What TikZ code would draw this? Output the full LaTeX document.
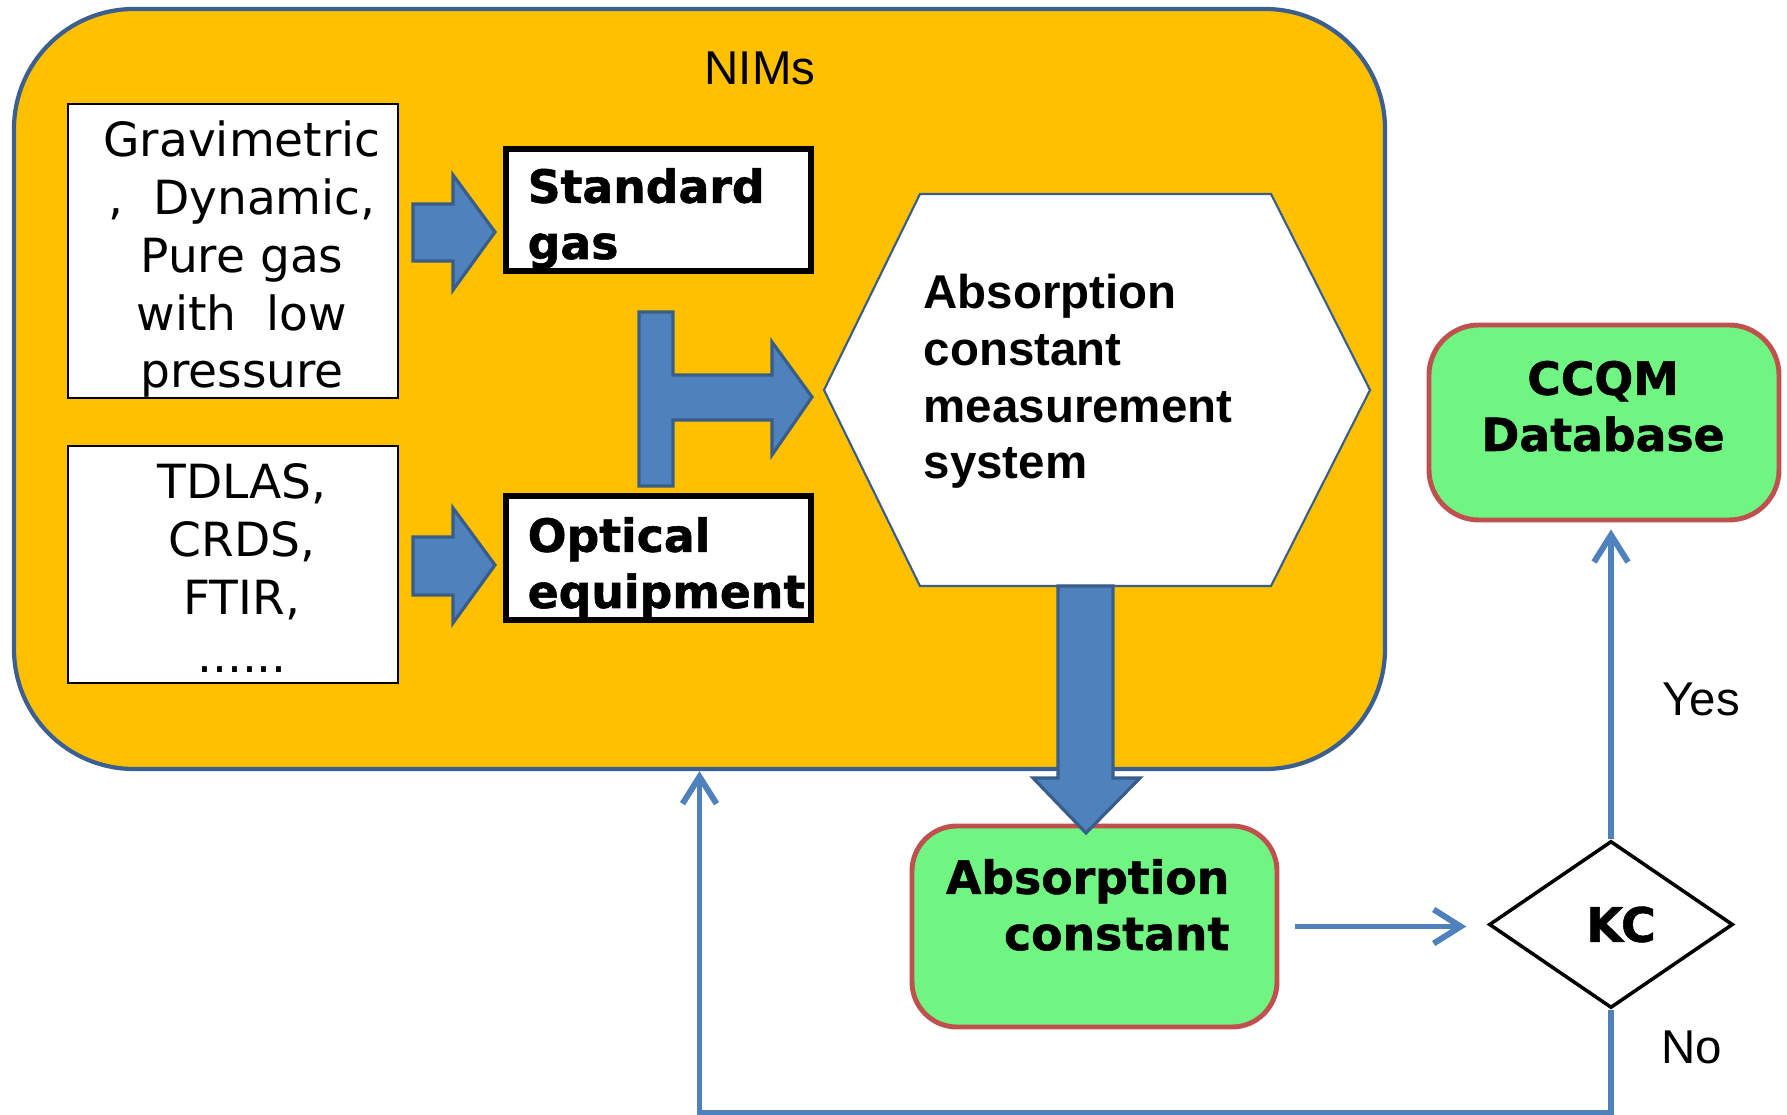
\documentclass[tikz,border=0pt]{standalone}
\usepackage{fontspec}
\setmainfont{Liberation Sans}
\newfontfamily\dejavu{DejaVu Sans}
\newfontfamily\heavy[BoldFeatures={FakeBold=1.2}]{DejaVu Sans}
\usetikzlibrary{arrows.meta,shapes.geometric}

\definecolor{nimsorange}{RGB}{255,192,0}
\definecolor{frameblue}{RGB}{59,95,145}
\definecolor{arrowblue}{RGB}{79,129,189}
\definecolor{arrowline}{RGB}{56,93,138}
\definecolor{resultgreen}{RGB}{112,245,130}
\definecolor{resultred}{RGB}{192,80,77}

\begin{document}
\begin{tikzpicture}[
  frame/.style={draw=frameblue, line width=1.2pt, fill=nimsorange, rounded corners=1.2cm, inner sep=0pt},
  plain/.style={draw=black, line width=0.6pt, fill=white, inner sep=0pt},
  inbox/.style={draw=black, line width=1.5pt, fill=white, inner sep=0pt},
  result/.style={draw=resultred, line width=1.4pt, fill=resultgreen, rounded corners=0.45cm, inner sep=0pt},
  note/.style={inner sep=0pt, font=\fontsize{13.5}{16}\selectfont},
  thintext/.style={inner sep=0pt, align=center, font={\dejavu\fontsize{13.4}{16.5}\selectfont}},
  heavytext/.style={inner sep=0pt, font={\heavy\bfseries\fontsize{13}{16}\selectfont}},
  hextext/.style={inner sep=0pt, align=left, font={\bfseries\fontsize{13.5}{16.2}\selectfont}},
  blockarrow/.style={draw=arrowline, line width=0.9pt, fill=arrowblue},
  flow/.style={draw=arrowblue, line width=1.7pt, -{Straight Barb[length=2.7mm,width=3.4mm]}}
]
  \useasboundingbox (0,0) rectangle (17.87,-11.15);

  % NIMs frame
  \node [frame, minimum width=13.71cm, minimum height=7.60cm] (nims) at (6.995,-3.89) {};
  \node [note, anchor=base] (nimslabel) at (7.60,-0.85) {NIMs};

  % sources (base = last line)
  \node [plain, minimum width=3.30cm, minimum height=2.94cm] (grav) at (2.33,-2.51) {};
  \node [thintext, anchor=base] (gravtext) at (2.42,-3.88) {Gravimetric\\,~~Dynamic,\\Pure gas\\with~~low\\pressure};
  \node [plain, minimum width=3.30cm, minimum height=2.37cm] (tdlas) at (2.33,-5.645) {};
  \node [thintext, anchor=base] (tdlastext) at (2.42,-6.72) {TDLAS,\\CRDS,\\FTIR,\\......};

  \node [inbox, minimum width=3.05cm, minimum height=1.22cm] (std) at (6.585,-2.10) {};
  \node [heavytext, align=left, anchor=base west] (stdtext) at (5.27,-2.59) {Standard\\gas};
  \node [inbox, minimum width=3.05cm, minimum height=1.24cm] (opt) at (6.585,-5.58) {};
  \node [heavytext, align=left, anchor=base west] (opttext) at (5.27,-6.08) {Optical\\equipment};

  \draw [blockarrow] (4.13,-2.04) -- (4.53,-2.04) -- (4.53,-1.75) -- (4.95,-2.32) -- (4.53,-2.90) -- (4.53,-2.61) -- (4.13,-2.61) -- cycle;
  \draw [blockarrow] (4.13,-5.37) -- (4.53,-5.37) -- (4.53,-5.08) -- (4.95,-5.65) -- (4.53,-6.23) -- (4.53,-5.95) -- (4.13,-5.95) -- cycle;
  \draw [blockarrow] (6.39,-3.12) -- (6.73,-3.12) -- (6.73,-3.75) -- (7.72,-3.75) -- (7.72,-3.42) -- (8.12,-3.97)
    -- (7.72,-4.55) -- (7.72,-4.20) -- (6.73,-4.20) -- (6.73,-4.86) -- (6.39,-4.86) -- cycle;

  % measurement system
  \draw [draw=arrowline, line width=0.6pt, fill=white] (8.24,-3.90) -- (9.20,-1.94) -- (12.71,-1.94) -- (13.70,-3.90) -- (12.71,-5.86) -- (9.20,-5.86) -- cycle;
  \node [hextext, anchor=base west] (meas) at (9.23,-4.79) {Absorption\\constant\\measurement\\system};

  % results
  \node [result, minimum width=3.65cm, minimum height=2.01cm] (abs) at (10.945,-9.265) {};
  \node [heavytext, align=right, anchor=base east] (abstext) at (12.30,-9.50) {Absorption\\constant};
  \draw [blockarrow] (10.58,-5.86) -- (11.13,-5.86) -- (11.13,-7.78) -- (11.40,-7.78) -- (10.86,-8.33) -- (10.33,-7.78) -- (10.58,-7.78) -- cycle;

  \node [result, rounded corners=0.5cm, minimum width=3.50cm, minimum height=1.95cm] (ccqm) at (16.04,-4.225) {};
  \node [heavytext, align=center, anchor=base] (ccqmtext) at (16.03,-4.51) {CCQM\\Database};

  \node [diamond, draw=black, line width=1pt, fill=white, inner sep=0pt, minimum width=2.44cm, minimum height=1.67cm,
    font={\heavy\bfseries\fontsize{13.5}{16}\selectfont}] (kc) at (16.11,-9.245) {\hspace*{0.2cm}KC};

  \draw [flow, shorten <=0.16cm, shorten >=0.21cm] (abs.east) -- (abs.east -| kc.west);
  \draw [flow, shorten >=0.07cm] (kc.north) -- (kc.north |- ccqm.south);
  \draw [flow] (kc.south) -- ++(0,-1.03) -| (nims.south);

  \node [note, anchor=base] (yes) at (17.01,-7.16) {Yes};
  \node [note, anchor=base] (no) at (16.92,-10.63) {No};
\end{tikzpicture}
\end{document}
